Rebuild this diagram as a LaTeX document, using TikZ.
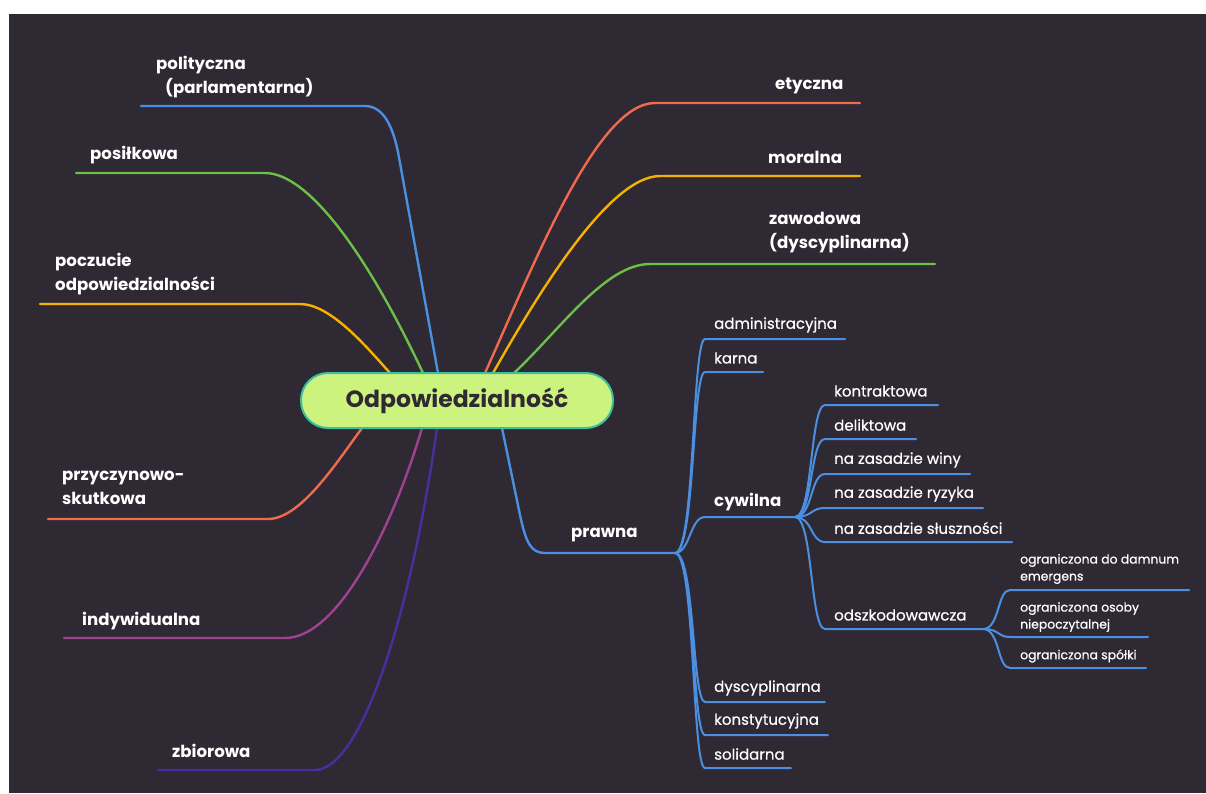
\documentclass[tikz,border=0pt]{standalone}
\usepackage{fontspec}
\setmainfont{Poppins}
\newfontfamily\medfont[FakeBold=0.6]{Poppins}
\definecolor{bg}{HTML}{2F2934}
\definecolor{cblue}{HTML}{4A8FE0}
\definecolor{cgreen}{HTML}{6CBF47}
\definecolor{cyellow}{HTML}{F5B300}
\definecolor{cred}{HTML}{F06A50}
\definecolor{cpurple}{HTML}{9E4291}
\definecolor{cindigo}{HTML}{4A2E9E}
\definecolor{nfill}{HTML}{CDF37F}
\definecolor{nborder}{HTML}{3DBE9E}
\tikzset{
  mainlbl/.style={text=white, font=\bfseries\fontsize{16.6}{24}\selectfont, anchor=west, inner sep=0pt, align=left},
  sublbl/.style={text=white, font=\medfont\fontsize{15}{18}\selectfont, anchor=west, inner sep=0pt},
  smalllbl/.style={text=white, font=\medfont\fontsize{12.4}{17}\selectfont, anchor=west, inner sep=0pt, align=left},
  mline/.style={line width=2.4pt, line cap=round},
  sline/.style={line width=2pt, line cap=round, cblue},
}
\begin{document}
\begin{tikzpicture}[x=1pt,y=-1pt]
\useasboundingbox (0,0) rectangle (1206,793);
\fill[white] (0,0) rectangle (1206,793);
\fill[bg] (9,14) rectangle (1206,793);

% ---------- coordinates on the central node
\coordinate (cPol) at (438,373);
\coordinate (cPos) at (423,373);
\coordinate (cPoc) at (390,373);
\coordinate (cPrz) at (362,428);
\coordinate (cInd) at (422,428);
\coordinate (cZbi) at (437,428);
\coordinate (cEty) at (485,373);
\coordinate (cMor) at (493,373);
\coordinate (cZaw) at (514,373);
\coordinate (cPra) at (502,428);

% ---------- left branches
\coordinate (polL) at (141,106); \coordinate (polR) at (365,106);
\draw[mline,cblue] (polL) -- (polR) .. controls (384,106) and (393,128) .. (398,152) -- (cPol);
\node[mainlbl] (pol) at (156,77) {polityczna\\\hspace*{9pt}(parlamentarna)};

\coordinate (posL) at (76,173); \coordinate (posR) at (265,173);
\draw[mline,cgreen] (posL) -- (posR) .. controls (310,173) and (370,260) .. (cPos);
\node[mainlbl] (pos) at (90,155) {posiłkowa};

\coordinate (pocL) at (40,304); \coordinate (pocR) at (300,304);
\draw[mline,cyellow] (pocL) -- (pocR) .. controls (330,304) and (365,345) .. (cPoc);
\node[mainlbl] (poc) at (55,274) {poczucie\\odpowiedzialności};

\coordinate (przL) at (48,519); \coordinate (przR) at (268,519);
\draw[mline,cred] (przL) -- (przR) .. controls (300,519) and (335,465) .. (cPrz);
\node[mainlbl] (prz) at (62,488) {przyczynowo-\\skutkowa};

\coordinate (indL) at (64,638); \coordinate (indR) at (285,638);
\draw[mline,cpurple] (indL) -- (indR) .. controls (340,638) and (395,520) .. (cInd);
\node[mainlbl] (ind) at (82,621) {indywidualna};

\coordinate (zbiL) at (158,770); \coordinate (zbiR) at (315,770);
\draw[mline,cindigo] (zbiL) -- (zbiR) .. controls (360,770) and (410,620) .. (cZbi);
\node[mainlbl] (zbi) at (172,751) {zbiorowa};

% ---------- right branches
\coordinate (etyL) at (655,103); \coordinate (etyR) at (860,103);
\draw[mline,cred] (cEty) .. controls (535,262) and (597,103) .. (etyL) -- (etyR);
\node[mainlbl] (ety) at (775,86) {etyczna};

\coordinate (morL) at (660,176); \coordinate (morR) at (860,176);
\draw[mline,cyellow] (cMor) .. controls (540,290) and (610,176) .. (morL) -- (morR);
\node[mainlbl] (mor) at (768,157) {moralna};

\coordinate (zawL) at (650,264); \coordinate (zawR) at (935,264);
\draw[mline,cgreen] (cZaw) .. controls (560,330) and (605,264) .. (zawL) -- (zawR);
\node[mainlbl] (zaw) at (769,233) {zawodowa\\(dyscyplinarna)};

\coordinate (praL) at (545,553); \coordinate (praR) at (675,553);
\draw[mline,cblue] (cPra) -- (520,515) .. controls (526,543) and (531,553) .. (praL) -- (praR);
\node[mainlbl] (pra) at (571,535) {prawna};

% ---------- prawna sub-branches
\foreach \nm/\y/\xe in {adm/339/845, kar/372/763, dys/702/825, kon/735/828, sol/768/791}{
  \coordinate (\nm L) at (705,\y);
  \coordinate (\nm R) at (\xe,\y);
  \draw[sline] (praR) .. controls (695,553) and (692,\y) .. (\nm L) -- (\nm R);
}
\node[sublbl] (adm) at (714,325) {administracyjna};
\node[sublbl] (kar) at (714,358) {karna};
\node[sublbl] (dys) at (714,688) {dyscyplinarna};
\node[sublbl] (kon) at (714,721) {konstytucyjna};
\node[sublbl] (sol) at (714,754) {solidarna};

\coordinate (cywL) at (705,517); \coordinate (cywR) at (795,517);
\draw[sline] (praR) .. controls (690,553) and (690,517) .. (cywL) -- (cywR);
\node[mainlbl] (cyw) at (714,502) {cywilna};

% ---------- cywilna sub-branches
\foreach \nm/\y/\xe in {kot/405/938, del/439/916, win/474/970, ryz/508/983, slu/542/1012, ods/629/983}{
  \coordinate (\nm L) at (825,\y);
  \coordinate (\nm R) at (\xe,\y);
  \draw[sline] (cywR) .. controls (813,517) and (810,\y) .. (\nm L) -- (\nm R);
}
\node[sublbl] (kot) at (834,391) {kontraktowa};
\node[sublbl] (del) at (834,425) {deliktowa};
\node[sublbl] (win) at (834,460) {na zasadzie winy};
\node[sublbl] (ryz) at (834,494) {na zasadzie ryzyka};
\node[sublbl] (slu) at (834,528) {na zasadzie słuszności};
\node[sublbl] (ods) at (834,615) {odszkodowawcza};

% ---------- odszkodowawcza sub-branches
\foreach \nm/\y/\xe in {dam/590/1189, oso/637/1148, spo/668/1146}{
  \coordinate (\nm L) at (1010,\y);
  \coordinate (\nm R) at (\xe,\y);
  \draw[sline] (odsR) .. controls (1000,629) and (997,\y) .. (\nm L) -- (\nm R);
}
\node[smalllbl] (dam) at (1020,569) {ograniczona do damnum\\emergens};
\node[smalllbl] (oso) at (1020,617) {ograniczona osoby\\niepoczytalnej};
\node[smalllbl] (spo) at (1020,656) {ograniczona spółki};

% ---------- central node
\node[draw=nborder, fill=nfill, line width=2pt, rounded corners=27pt,
      minimum width=312pt, minimum height=55pt, inner sep=0pt,
      text=bg, font=\bfseries\fontsize{23.5}{26}\selectfont] (c) at (457,400.5) {Odpowiedzialność};
\end{tikzpicture}
\end{document}
